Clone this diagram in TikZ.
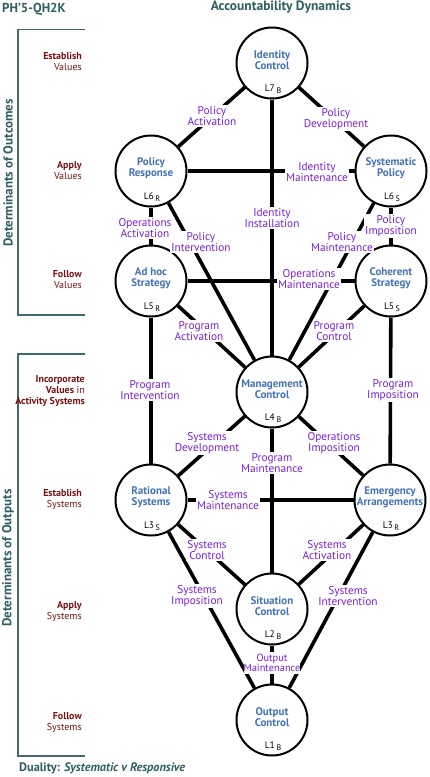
\documentclass[tikz,border=0pt]{standalone}
\usepackage{fontspec}
\setmainfont{PT Sans}
\definecolor{teal1}{HTML}{2F5F60}
\definecolor{bracket}{HTML}{3F6B6B}
\definecolor{purp}{HTML}{7A20DD}
\definecolor{blu}{HTML}{4472B8}
\definecolor{maro}{HTML}{7A1212}
\tikzset{
  ctrl/.style={circle,draw=black,line width=2pt,fill=white,minimum size=71pt,inner sep=0pt},
  ctext/.style={text=blu,font=\fontsize{11}{11}\selectfont\bfseries,align=center,inner sep=0pt},
  ltext/.style={text=black,font=\fontsize{9.5}{10}\selectfont,inner sep=0pt},
  link/.style={line width=3.6pt,black},
  elab/.style={fill=white,text=purp,font=\fontsize{11.3}{10.5}\selectfont,align=center,inner xsep=1pt,inner ysep=2pt},
  elabtight/.style={elab,font=\fontsize{10.4}{10.5}\selectfont,inner xsep=0pt},
  side/.style={text=maro,font=\fontsize{10}{11}\selectfont,align=right,anchor=east,inner sep=0pt},
  brk/.style={draw=bracket,line width=1.8pt},
  ttl/.style={text=teal1,font=\fontsize{13}{14}\selectfont\bfseries,inner sep=0pt},
}
\newcommand{\ctl}[6]{%
  \node[ctrl] (#1) at (#2,#3) {};
  \node[ctext] (#1t) at (#2,#3-2.5) {#4};
  \node[ltext] (#1l) at (#2+1,#3+26) {#5\,\raisebox{-2.5pt}{\fontsize{8}{8}\selectfont #6}};
}
\begin{document}
\begin{tikzpicture}[x=1pt,y=-1pt]
\useasboundingbox (0,0) rectangle (430,777);
\fill[white] (0,0) rectangle (430,777);
% controls
\ctl{L7}{272}{63}{Identity\\Control}{L7}{B}
\ctl{PR}{151}{171}{Policy\\Response}{L6}{R}
\ctl{SP}{391}{171}{Systematic\\Policy}{L6}{S}
\ctl{AH}{151}{281}{Ad hoc\\Strategy}{L5}{R}
\ctl{CS}{391}{281}{Coherent\\Strategy}{L5}{S}
\ctl{MC}{272}{392}{Management\\Control}{L4}{B}
\ctl{RS}{151}{500}{Rational\\Systems}{L3}{S}
\ctl{EA}{390}{500}{Emergency\\Arrangements}{L3}{R}
\ctl{SC}{272}{609}{Situation\\Control}{L2}{B}
\ctl{OC}{272}{720}{Output\\Control}{L1}{B}
% links
\foreach \a/\b in {L7/PR,L7/SP,L7/MC,PR/SP,PR/AH,PR/MC,SP/MC,SP/CS,AH/CS,AH/MC,CS/MC,AH/RS,CS/EA,MC/RS,MC/EA,MC/SC,RS/EA,RS/SC,EA/SC,RS/OC,EA/OC,SC/OC}
  \draw[link] (\a) -- (\b);
% link labels
\node[elab] (e1) at (212,116) {Policy\\Activation};
\node[elab] (e2) at (336,119) {Policy\\Development};
\node[elab] (e3) at (317,172) {Identity\\Maintenance};
\node[elab] (e4) at (272,218) {Identity\\Installation};
\node[elab] (e5) at (145,228) {Operations\\Activation};
\node[elab] (e6) at (201,242) {Policy\\Intervention};
\node[elab] (e7) at (342,242) {Policy\\Maintenance};
\node[elab] (e8) at (391,226) {Policy\\Imposition};
\node[elab] (e9) at (309,279) {Operations\\Maintenance};
\node[elab] (e10) at (199,331) {Program\\Activation};
\node[elab] (e11) at (334,331) {Program\\Control};
\node[elab] (e12) at (150,390) {Program\\Intervention};
\node[elab] (e13) at (393,390) {Program\\Imposition};
\node[elab] (e14) at (207,443) {Systems\\Development};
\node[elab] (e15) at (334,443) {Operations\\Imposition};
\node[elab] (e16) at (272,463) {Program\\Maintenance};
\node[elab] (e17) at (228,500) {Systems\\Maintenance};
\node[elab] (e18) at (207,550) {Systems\\Control};
\node[elab] (e19) at (327,550) {Systems\\Activation};
\node[elab] (e20) at (197,596) {Systems\\Imposition};
\node[elab] (e21) at (348,596) {Systems\\Intervention};
\node[elabtight] (e22) at (272,663) {Output\\Maintenance};
% brackets
\draw[brk] (85,29.5) -- (18,29.5) -- (18,315) -- (85,315);
\draw[brk] (85,354) -- (18,354) -- (18,756) -- (85,756);
% side text
\node[side] (s1) at (82,62) {\textbf{Establish}\\Values};
\node[side] (s2) at (82,171) {\textbf{Apply}\\Values};
\node[side] (s3) at (82,280) {\textbf{Follow}\\Values};
\node[side] (s4) at (85,391) {\textbf{Incorporate}\\\textbf{Values} in\\\textbf{Activity Systems}};
\node[side] (s5) at (82,499.5) {\textbf{Establish}\\Systems};
\node[side] (s6) at (82,611.5) {\textbf{Apply}\\Systems};
\node[side] (s7) at (82,722.5) {\textbf{Follow}\\Systems};
\node[ttl,rotate=90] (d1) at (8,173) {Determinants of Outcomes};
\node[ttl,rotate=90] (d2) at (8,558) {Determinants of Outputs};
% titles
\node[ttl,anchor=west] (t1) at (2,9) {PH’5-QH2K};
\node[ttl,anchor=center,font=\fontsize{13.5}{14}\selectfont\bfseries] (t2) at (281,7) {Accountability Dynamics};
\node[ttl,anchor=west,font=\fontsize{12.3}{14}\selectfont\bfseries] (t3) at (19,768) {Duality: \textit{Systematic v Responsive}};
\end{tikzpicture}
\end{document}
